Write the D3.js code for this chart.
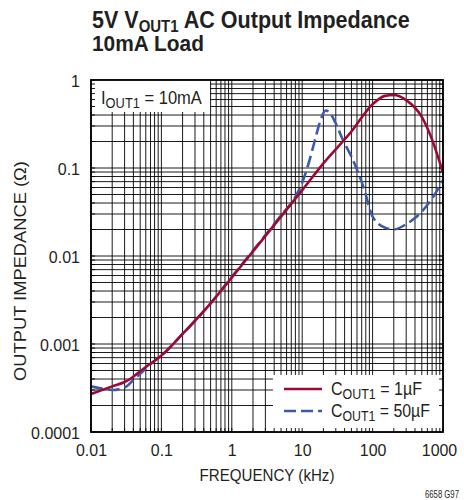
<!DOCTYPE html>
<html><head><meta charset="utf-8">
<script src="https://cdn.jsdelivr.net/npm/d3@7"></script>
<style>
body{margin:0;background:#fff;}
svg{display:block;}
text{font-family:"Liberation Sans",Arial,sans-serif;fill:#231f20;}
</style></head>
<body>
<svg id="c" width="464" height="500"></svg>
<script>
// ---- data ----
const freqRed = [0.01, 0.02, 0.03, 0.036, 0.05, 0.07, 0.1, 0.2, 0.5, 1, 2, 5, 10, 20, 50, 100, 150, 200, 300, 500, 700, 1000];
const zRed    = [0.00027, 0.00033, 0.00037, 0.0004, 0.00049, 0.0006, 0.00074, 0.0013, 0.0029, 0.0057, 0.0113, 0.028, 0.056, 0.113, 0.26, 0.53, 0.66, 0.675, 0.59, 0.38, 0.21, 0.088];
const freqBlue = [0.01, 0.015, 0.02, 0.03, 0.04, 0.05, 0.07, 0.1, 0.2, 0.5, 1, 2, 5, 8, 10, 12, 15, 18, 21.6, 25, 30, 38, 50, 74, 100, 150, 200, 300, 400, 500, 700, 1000];
const zBlue    = [0.00033, 0.00031, 0.0003, 0.00032, 0.00039, 0.00046, 0.00059, 0.00074, 0.0013, 0.0029, 0.0058, 0.0115, 0.029, 0.047, 0.068, 0.105, 0.2, 0.34, 0.45, 0.42, 0.32, 0.208, 0.135, 0.061, 0.028, 0.021, 0.02, 0.023, 0.027, 0.032, 0.045, 0.073];
const xTickLabels = ["0.01", "0.1", "1", "10", "100", "1000"];
const yTickLabels = ["0.0001", "0.001", "0.01", "0.1", "1"];
const seriesNames = ["1µF", "50µF"];

const svg = d3.select("#c");
const M = {l: 91, r: 443, t: 80, b: 432};
const x = d3.scaleLog().domain([0.01, 1000]).range([M.l, M.r]);
const y = d3.scaleLog().domain([0.0001, 1]).range([M.b, M.t]);

function measure(s, fs, bold) {
  const t = svg.append("text").style("font-size", fs + "px").style("font-weight", bold ? "bold" : null).text(s);
  const w = t.node().getBBox().width; t.remove(); return w;
}
// horizontally scale a text element to a target width around an anchor x (in its own coords)
function fitX(t, w, ax) {
  const bw = t.node().getBBox().width;
  const k = w / bw;
  t.attr("transform", `translate(${ax},0) scale(${k},1) translate(${-ax},0)`);
}

// grid values
const xGrid = [], yGrid = [];
for (let e = -2; e < 3; e++) for (let m = 1; m < 10; m++) xGrid.push(m * Math.pow(10, e));
xGrid.push(1000);
for (let e = -4; e < 0; e++) for (let m = 1; m < 10; m++) yGrid.push(m * Math.pow(10, e));
yGrid.push(1);

const g = svg.append("g");
g.selectAll(".vg").data(xGrid).enter().append("line")
  .attr("x1", d => x(d)).attr("x2", d => x(d)).attr("y1", M.t).attr("y2", M.b)
  .attr("stroke", "#000").attr("stroke-width", 0.9);
g.selectAll(".hg").data(yGrid).enter().append("line")
  .attr("y1", d => y(d)).attr("y2", d => y(d)).attr("x1", M.l).attr("x2", M.r)
  .attr("stroke", "#000").attr("stroke-width", 0.9);

// label box and legend box (white, covering grid)
svg.append("rect").attr("x", M.l).attr("y", M.t).attr("width", 119).attr("height", 32).attr("fill", "#fff");
svg.append("rect").attr("x", 273).attr("y", 375).attr("width", M.r - 273).attr("height", M.b - 375).attr("fill", "#fff");

// tick stubs inside frame (left, bottom, right)
const st = svg.append("g").attr("stroke", "#000").attr("stroke-width", 0.9);
xGrid.forEach(d => st.append("line").attr("x1", x(d)).attr("x2", x(d)).attr("y1", M.b).attr("y2", M.b - 4));
yGrid.forEach(d => {
  st.append("line").attr("y1", y(d)).attr("y2", y(d)).attr("x1", M.l).attr("x2", M.l + 4);
  st.append("line").attr("y1", y(d)).attr("y2", y(d)).attr("x1", M.r).attr("x2", M.r - 4);
});

// curves
const line = d3.line().x(d => x(d[0])).y(d => y(d[1])).curve(d3.curveMonotoneX);
const red = "#9b0a34", blue = "#3c5aa8";
svg.append("path").datum(freqBlue.map((f, i) => [f, zBlue[i]]))
  .attr("d", line).attr("fill", "none").attr("stroke", blue).attr("stroke-width", 2.6)
  .attr("stroke-dasharray", "12,5");
svg.append("path").datum(freqRed.map((f, i) => [f, zRed[i]]))
  .attr("d", line).attr("fill", "none").attr("stroke", red).attr("stroke-width", 2.6);

// frame
svg.append("rect").attr("x", M.l).attr("y", M.t).attr("width", M.r - M.l).attr("height", M.b - M.t)
  .attr("fill", "none").attr("stroke", "#000").attr("stroke-width", 1.8);

// x axis labels
const xAxis = d3.axisBottom(x).tickValues([0.01, 0.1, 1, 10, 100, 1000]).tickFormat((d, i) => xTickLabels[i]).tickSize(0);
const xa = svg.append("g").attr("transform", `translate(0,${M.b})`).call(xAxis);
xa.select(".domain").remove();
const kx = 31 / measure("0.01", 17);
xa.selectAll("text").attr("y", 24).attr("dy", 0)
  .attr("font-family", null).attr("font-size", null).style("font-size", "17px").attr("fill", "#231f20")
  .each(function(d) {
    const ax = d === 1000 ? -4 : 0;
    d3.select(this).attr("x", ax).attr("transform", `translate(${ax},0) scale(${kx},1) translate(${-ax},0)`);
  });

// y axis labels
const yAxis = d3.axisLeft(y).tickValues([0.0001, 0.001, 0.01, 0.1, 1]).tickFormat((d, i) => yTickLabels[i]).tickSize(0);
const ya = svg.append("g").attr("transform", `translate(${M.l},0)`).call(yAxis);
ya.select(".domain").remove();
const ky = 49 / measure("0.0001", 17);
ya.selectAll("text").attr("x", -11).attr("dy", "0.37em")
  .attr("font-family", null).attr("font-size", null).style("font-size", "17px").attr("fill", "#231f20")
  .attr("transform", `translate(-11,0) scale(${ky},1) translate(11,0)`);

// axis titles
const xt = svg.append("text").attr("x", (M.l + M.r) / 2).attr("y", 481).attr("text-anchor", "middle")
  .style("font-size", "17px").text("FREQUENCY (kHz)");
fitX(xt, 135, (M.l + M.r) / 2);
const ytg = svg.append("g").attr("transform", "translate(26,271) rotate(-90)");
const yt = ytg.append("text").attr("x", 0).attr("y", 0).attr("text-anchor", "middle")
  .style("font-size", "17px").text("OUTPUT IMPEDANCE (Ω)");
fitX(yt, 220, 0);

// title
const t1 = svg.append("text").attr("x", 92).attr("y", 28).style("font-size", "23px").style("font-weight", "bold");
t1.append("tspan").text("5V V");
t1.append("tspan").attr("dy", 4).style("font-size", "16px").text("OUT1");
t1.append("tspan").attr("dy", -4).text(" AC Output Impedance");
fitX(t1, 318, 92);
const t2 = svg.append("text").attr("x", 92).attr("y", 51).style("font-size", "22px").style("font-weight", "bold").text("10mA Load");
fitX(t2, 112, 92);

// IOUT1 label
const lab = svg.append("text").attr("x", 101).attr("y", 104).style("font-size", "18px");
lab.append("tspan").text("I");
lab.append("tspan").attr("dy", 4).style("font-size", "14px").text("OUT1");
lab.append("tspan").attr("dy", -4).text(" = 10mA");
fitX(lab, 101, 101);

// legend
const legY = [389, 411];
const legW = [91, 99];
seriesNames.forEach((nm, i) => {
  svg.append("line").attr("x1", 284).attr("x2", 322).attr("y1", legY[i]).attr("y2", legY[i])
    .attr("stroke", i === 0 ? red : blue).attr("stroke-width", 2.6)
    .attr("stroke-dasharray", i === 0 ? null : "12,5");
  const lt = svg.append("text").attr("x", 331).attr("y", legY[i] + 6).style("font-size", "18px");
  lt.append("tspan").text("C");
  lt.append("tspan").attr("dy", 4).style("font-size", "14px").text("OUT1");
  lt.append("tspan").attr("dy", -4).text(" = " + nm);
  fitX(lt, legW[i], 331);
});

// figure id
const fid = svg.append("text").attr("x", 425).attr("y", 498).style("font-size", "11px").text("6658 G97");
fitX(fid, 34, 425);
</script>
</body></html>
